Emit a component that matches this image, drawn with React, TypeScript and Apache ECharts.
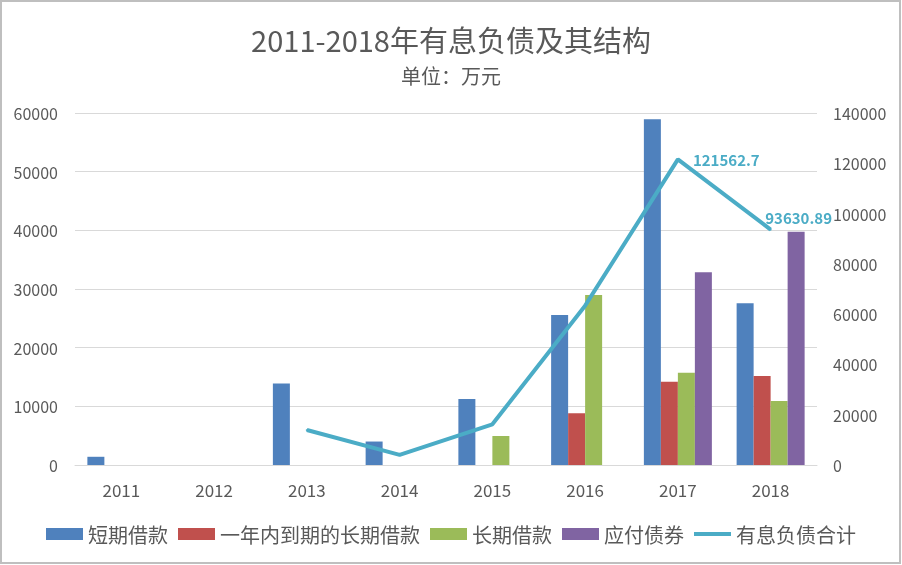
import React, { useEffect, useRef } from "react";
import * as echarts from "echarts";

const years = ["2011", "2012", "2013", "2014", "2015", "2016", "2017", "2018"];
const shortLoans = [1400, null, 13900, 4000, 11250, 25570, 58920, 27560];
const currentLongLoans = [null, null, null, null, null, 8810, 14200, 15170];
const longLoans = [null, null, null, null, 4940, 28980, 15740, 10910];
const bonds = [null, null, null, null, null, null, 32840, 39770];
const totalDebt = [null, null, 13900, 4000, 16190, 63360, 121562.7, 93630.89];

const seriesNames = ["短期借款", "一年内到期的长期借款", "长期借款", "应付债券", "有息负债合计"];
const colors = ["#4f81bd", "#c0504d", "#9bbb59", "#8064a2", "#4bacc6"];

const FONT = "'Noto Sans CJK SC', 'Noto Sans', sans-serif";

export default function App() {
  const ref = useRef<HTMLDivElement>(null);
  useEffect(() => {
    if (!ref.current) return;
    const chart = echarts.init(ref.current, undefined, { renderer: "svg" });
    const barSeries = [shortLoans, currentLongLoans, longLoans, bonds].map((d, i) => ({
      name: seriesNames[i],
      type: "bar",
      data: d,
      barWidth: 17,
      barGap: "0%",
      itemStyle: { color: colors[i] },
      yAxisIndex: 0,
    }));
    const lineData = totalDebt.map((v, i) => {
      if (i === 6) {
        return {
          value: v,
          label: { show: true, position: "right", distance: 14 },
        };
      }
      if (i === 7) {
        return {
          value: v,
          label: { show: true, position: "top", distance: 4, offset: [28, 0] },
        };
      }
      return v;
    });
    chart.setOption({
      animation: false,
      textStyle: { fontFamily: FONT },
      title: [
        {
          text: "2011-2018年有息负债及其结构",
          left: "center",
          top: 19,
          textStyle: { fontSize: 29, fontWeight: "normal", color: "#595959", fontFamily: FONT },
        },
        {
          text: "单位：万元",
          left: "center",
          top: 60,
          textStyle: { fontSize: 20, fontWeight: "normal", color: "#595959", fontFamily: FONT },
        },
      ],
      legend: {
        bottom: 16,
        left: "center",
        itemWidth: 37,
        itemHeight: 12,
        itemGap: 10,
        textStyle: { fontSize: 20, color: "#595959", fontFamily: FONT },
        data: seriesNames.map((n, i) =>
          i === 4
            ? { name: n, icon: "path://M0,5 L37,5 L37,9 L0,9 Z", itemStyle: { color: colors[4] } }
            : { name: n, icon: "rect" }
        ),
      },
      grid: { left: 75, right: 85, top: 113, bottom: 100 },
      xAxis: {
        type: "category",
        data: years,
        axisTick: { show: false },
        axisLine: { show: true, lineStyle: { color: "#d9d9d9", width: 1 } },
        axisLabel: { color: "#595959", fontSize: 17, margin: 16 },
      },
      yAxis: [
        {
          type: "value",
          min: 0,
          max: 60000,
          interval: 10000,
          axisLine: { show: false },
          axisTick: { show: false },
          splitLine: { lineStyle: { color: "#d9d9d9", width: 1 } },
          axisLabel: { color: "#595959", fontSize: 16, margin: 17, formatter: (v: number) => String(v) },
        },
        {
          type: "value",
          min: 0,
          max: 140000,
          interval: 20000,
          axisLine: { show: false },
          axisTick: { show: false },
          splitLine: { show: false },
          axisLabel: { color: "#595959", fontSize: 16, margin: 16, formatter: (v: number) => String(v) },
        },
      ],
      series: [
        ...barSeries,
        {
          name: seriesNames[4],
          type: "line",
          yAxisIndex: 1,
          data: lineData,
          symbol: "circle",
          symbolSize: 2,
          showSymbol: true,
          connectNulls: false,
          lineStyle: { color: colors[4], width: 4 },
          itemStyle: { color: colors[4] },
          label: {
            color: colors[4],
            fontSize: 15,
            fontWeight: "bold",
            fontFamily: FONT,
            formatter: (p: any) => String(p.value),
          },
          z: 5,
        },
      ],
      graphic: [
        {
          type: "rect",
          shape: { x: 1, y: 1, width: 899, height: 562 },
          style: { fill: "none", stroke: "#bfbfbf", lineWidth: 2 },
          silent: true,
        },
      ],
    });
    return () => chart.dispose();
  }, []);
  return <div ref={ref} style={{ position: "fixed", left: 0, top: 0, width: 902, height: 565 }} />;
}
